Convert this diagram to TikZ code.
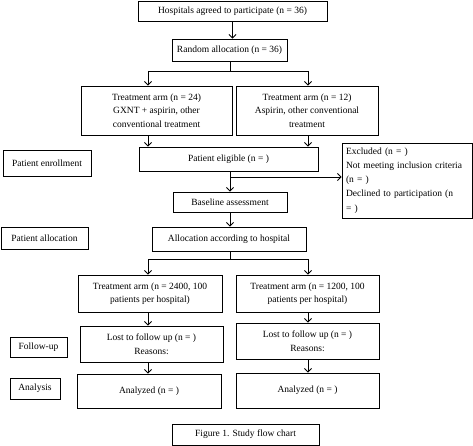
\documentclass[tikz,border=0pt]{standalone}
\usepackage{fontspec}
\setmainfont{Liberation Serif}
\usetikzlibrary{arrows.meta}
\tikzset{
  box/.style={draw, line width=0.9pt, align=center, inner sep=0pt,
    font=\fontsize{9.5}{13.5}\selectfont},
  arr/.style={line width=0.9pt, -{Straight Barb[length=3.5pt,width=7pt,line width=0.9pt]}},
  ln/.style={line width=0.9pt}
}
\begin{document}
\begin{tikzpicture}[x=1pt, y=-1pt]
\useasboundingbox (0,0) rectangle (473,446);
% main column
\node[box, minimum width=189, minimum height=20] (hosp) at (232.5,11) {Hospitals agreed to participate (n = 36)};
\node[box, minimum width=115, minimum height=22] (rand) at (229.5,50) {Random allocation (n = 36)};
\node[box, minimum width=151, minimum height=49] (arma) at (156.5,110.5) {Treatment arm (n = 24)\\
GXNT + aspirin, other\\
conventional treatment};
\node[box, minimum width=142, minimum height=49] (armb) at (307,110.5) {Treatment arm (n = 12)\\
Aspirin, other conventional\\
treatment};
\node[box, minimum width=179, minimum height=24] (elig) at (228.5,159) {Patient eligible (n = )};
\node[box, minimum width=130, minimum height=75, align=left, text width=122, inner xsep=4,
  font=\fontsize{9.5}{14.2}\selectfont] (excl) at (407,180.5) {\hyphenpenalty=10000 Excluded (n = )\\
Not meeting inclusion criteria\\
(n = )\\
Declined to participation (n\\
= )};
\node[box, minimum width=114, minimum height=20] (base) at (230,202) {Baseline assessment};
\node[box, minimum width=154, minimum height=24] (alloc) at (229,239) {Allocation according to hospital};
\node[box, minimum width=144, minimum height=37] (tra) at (150,293.5) {Treatment arm (n = 2400, 100\\
patients per hospital)};
\node[box, minimum width=143, minimum height=37] (trb) at (307.5,293.5) {Treatment arm (n = 1200, 100\\
patients per hospital)};
\node[box, minimum width=143, minimum height=36] (losta) at (151.5,344) {Lost to follow up (n = )\\
Reasons:};
\node[box, minimum width=143, minimum height=36] (lostb) at (307.5,341) {Lost to follow up (n = )\\
Reasons:};
\node[box, minimum width=144, minimum height=34] (ana) at (149,391) {Analyzed (n = )};
\node[box, minimum width=143, minimum height=35] (anb) at (307.5,390.5) {Analyzed (n = )};
% stage labels
\node[box, minimum width=88, minimum height=26] (enrol) at (47,163) {Patient enrollment};
\node[box, minimum width=87, minimum height=22] (palloc) at (44.5,238) {Patient allocation};
\node[box, minimum width=57, minimum height=20] (fup) at (38.5,347) {Follow-up};
\node[box, minimum width=50, minimum height=21] (anal) at (35,388.5) {Analysis};
\node[box, minimum width=147, minimum height=21] (fig) at (245.5,434.5) {Figure 1. Study flow chart};
% connectors
\coordinate (r1) at (230,71);
\coordinate (r1a) at (148,71);
\coordinate (r1b) at (308,71);
\coordinate (e1) at (230,177);
\coordinate (a1) at (230,259);
\coordinate (a1a) at (148,259);
\coordinate (a1b) at (308,259);
\draw[arr] (hosp.south) -- (hosp.south |- rand.north);
\draw[ln] (rand.south -| r1) -- (r1);
\draw[ln] (r1a) -- (r1b);
\draw[arr] (r1a) -- (r1a |- arma.north);
\draw[arr] (r1b) -- (r1b |- armb.north);
\draw[arr] (arma.south -| r1a) -- (r1a |- elig.north);
\draw[arr] (armb.south -| r1b) -- (r1b |- elig.north);
\draw[arr] (elig.south -| e1) -- (e1 |- base.north);
\draw[arr] (e1) -- (e1 -| excl.west);
\draw[arr] (base.south -| e1) -- (e1 |- alloc.north);
\draw[ln] (alloc.south -| a1) -- (a1);
\draw[ln] (a1a) -- (a1b);
\draw[arr] (a1a) -- (a1a |- tra.north);
\draw[arr] (a1b) -- (a1b |- trb.north);
\draw[arr] (tra.south -| a1a) -- (a1a |- losta.north);
\draw[arr] (trb.south -| a1b) -- (a1b |- lostb.north);
\draw[arr] (losta.south -| a1a) -- (a1a |- ana.north);
\draw[arr] (lostb.south -| a1b) -- (a1b |- anb.north);
\end{tikzpicture}
\end{document}
